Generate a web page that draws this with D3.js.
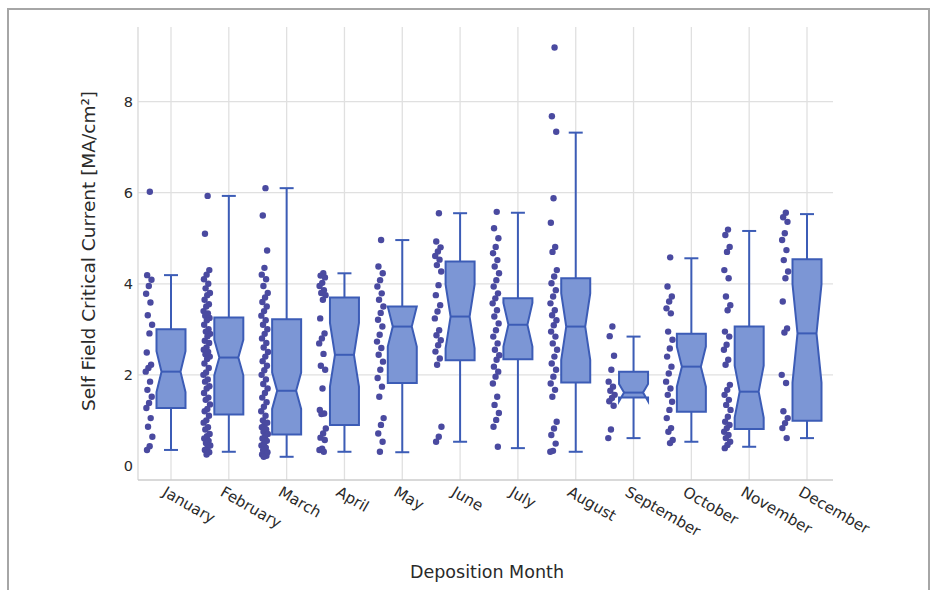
<!DOCTYPE html>
<html>
<head>
<meta charset="utf-8">
<script src="https://cdn.jsdelivr.net/npm/d3@7"></script>
<style>
  body { margin: 0; background: #fff; }
  text { font-family: "DejaVu Sans", Verdana, sans-serif; }
</style>
</head>
<body>
<svg id="chart" width="936" height="590"></svg>
<script>
// Monthly distribution of self-field critical current (MA/cm²)
const months = ["January", "February", "March", "April", "May", "June",
                "July", "August", "September", "October", "November", "December"];

// Box statistics per month
const upperFence = [4.19, 5.93, 6.10, 4.23, 4.96, 5.55, 5.56, 7.32, 2.84, 4.56, 5.16, 5.53];
const q3         = [3.00, 3.26, 3.22, 3.70, 3.50, 4.49, 3.68, 4.12, 2.07, 2.90, 3.06, 4.54];
const medians    = [2.07, 2.38, 1.65, 2.44, 3.06, 3.28, 3.10, 3.06, 1.61, 2.18, 1.63, 2.91];
const q1         = [1.27, 1.13, 0.69, 0.90, 1.82, 2.32, 2.34, 1.83, 1.50, 1.19, 0.81, 0.99];
const lowerFence = [0.35, 0.31, 0.20, 0.31, 0.30, 0.53, 0.39, 0.31, 0.61, 0.53, 0.42, 0.61];
const notchHalf  = [0.45, 0.39, 0.40, 0.70, 0.44, 0.70, 0.48, 0.73, 0.19, 0.44, 0.57, 1.08];

// Individual samples per month
const janPoints = [6.02, 4.19, 4.09, 3.95, 3.78, 3.59, 3.31, 3.10, 2.91, 2.49, 2.22, 2.15, 2.07,
  1.85, 1.67, 1.52, 1.38, 1.27, 1.05, 0.86, 0.64, 0.43, 0.35];
const febPoints = [5.93, 5.10, 4.30, 4.20, 4.10, 4.00, 3.90, 3.80, 3.75, 3.65, 3.55, 3.50, 3.40,
  3.35, 3.30, 3.25, 3.20, 3.10, 3.00, 2.95, 2.90, 2.85, 2.75, 2.70, 2.60, 2.55, 2.50, 2.45, 2.40,
  2.35, 2.25, 2.15, 2.05, 2.00, 1.90, 1.85, 1.75, 1.70, 1.60, 1.50, 1.45, 1.35, 1.25, 1.20, 1.10,
  1.00, 0.95, 0.85, 0.80, 0.70, 0.65, 0.60, 0.55, 0.50, 0.45, 0.40, 0.35, 0.30, 0.25];
const marPoints = [6.10, 5.50, 4.73, 4.35, 4.20, 4.10, 3.95, 3.80, 3.70, 3.60, 3.50, 3.40, 3.30,
  3.20, 3.10, 3.00, 2.90, 2.80, 2.70, 2.60, 2.50, 2.40, 2.30, 2.20, 2.10, 2.00, 1.90, 1.80, 1.70,
  1.60, 1.50, 1.40, 1.30, 1.20, 1.10, 1.00, 0.95, 0.90, 0.85, 0.80, 0.75, 0.70, 0.65, 0.60, 0.55,
  0.50, 0.45, 0.40, 0.35, 0.30, 0.28, 0.25, 0.22, 0.20];
const aprPoints = [4.23, 4.18, 4.14, 4.02, 3.95, 3.86, 3.80, 3.75, 3.65, 3.24, 2.91, 2.80, 2.69,
  2.46, 2.20, 2.11, 1.70, 1.23, 1.15, 1.14, 0.82, 0.71, 0.62, 0.57, 0.38, 0.35, 0.31];
const mayPoints = [4.96, 4.38, 4.23, 4.08, 3.94, 3.79, 3.65, 3.50, 3.36, 3.21, 3.06, 2.88, 2.73,
  2.59, 2.44, 2.29, 2.11, 1.93, 1.74, 1.52, 1.05, 0.90, 0.71, 0.53, 0.31];
const junPoints = [5.55, 4.93, 4.80, 4.71, 4.61, 4.53, 4.41, 4.27, 3.97, 3.75, 3.53, 3.39, 3.24,
  2.98, 2.87, 2.76, 2.65, 2.51, 2.36, 2.22, 0.86, 0.64, 0.53];
const julPoints = [5.58, 5.22, 5.00, 4.81, 4.67, 4.52, 4.38, 4.23, 4.08, 3.94, 3.79, 3.68, 3.57,
  3.42, 3.28, 3.13, 2.98, 2.84, 2.69, 2.55, 2.43, 2.33, 2.18, 2.07, 1.96, 1.81, 1.52, 1.34, 1.16,
  1.01, 0.86, 0.42];
const augPoints = [9.19, 7.68, 7.34, 5.88, 5.34, 4.81, 4.70, 4.30, 4.16, 4.01, 3.86, 3.72, 3.57,
  3.42, 3.31, 3.20, 3.09, 2.95, 2.84, 2.69, 2.55, 2.40, 2.25, 2.11, 1.96, 1.81, 1.67, 1.52, 0.97,
  0.82, 0.68, 0.49, 0.33, 0.31];
const sepPoints = [3.06, 2.85, 2.42, 2.11, 1.85, 1.74, 1.65, 1.56, 1.49, 1.42, 1.32, 0.80, 0.61];
const octPoints = [4.58, 3.94, 3.72, 3.61, 3.46, 3.35, 2.95, 2.77, 2.58, 2.40, 2.18, 2.03, 1.85,
  1.70, 1.56, 1.41, 1.23, 1.05, 0.83, 0.75, 0.57, 0.50];
const novPoints = [5.19, 5.07, 4.81, 4.70, 4.30, 4.12, 3.72, 3.53, 3.42, 2.95, 2.84, 2.66, 2.55,
  2.33, 2.22, 1.78, 1.67, 1.56, 1.45, 1.34, 1.23, 1.08, 0.97, 0.90, 0.83, 0.75, 0.68, 0.61, 0.53,
  0.46, 0.39];
const decPoints = [5.56, 5.46, 5.36, 5.11, 4.96, 4.74, 4.52, 4.27, 4.12, 3.61, 3.02, 2.93, 2.00,
  1.82, 1.20, 1.05, 0.94, 0.83, 0.61];

const monthPoints = [janPoints, febPoints, marPoints, aprPoints, mayPoints, junPoints,
  julPoints, augPoints, sepPoints, octPoints, novPoints, decPoints];

const yTicks = [0, 2, 4, 6, 8];

const svg = d3.select("#chart");
const plot = { left: 138, right: 833, top: 27, bottom: 480 };

const x = d3.scalePoint().domain(months).range([171, 807]);
const y = d3.scaleLinear().domain([-0.31, 9.64]).range([plot.bottom, plot.top]);

const boxStroke = "#3c5cb6";
const boxFill = "#7c96d5";
const pointFill = "#4a4aa0";
const gridColor = "#e0e0e0";
const textColor = "#2a2a2a";
const fontStack = '"DejaVu Sans", Verdana, sans-serif';

// outer frame
svg.append("rect")
  .attr("x", 8).attr("y", 9).attr("width", 921).attr("height", 590)
  .attr("fill", "none").attr("stroke", "#a6a6a6").attr("stroke-width", 2);

// horizontal grid
svg.append("g").selectAll("line").data(yTicks.filter(d => d > 0)).join("line")
  .attr("x1", plot.left).attr("x2", plot.right)
  .attr("y1", d => y(d)).attr("y2", d => y(d))
  .attr("stroke", gridColor).attr("stroke-width", 1.3);

// vertical grid at each month
svg.append("g").selectAll("line").data(months).join("line")
  .attr("x1", d => x(d)).attr("x2", d => x(d))
  .attr("y1", plot.top).attr("y2", plot.bottom)
  .attr("stroke", gridColor).attr("stroke-width", 1.3);

// axis lines
svg.append("line").attr("x1", plot.left).attr("x2", plot.left)
  .attr("y1", plot.top).attr("y2", plot.bottom)
  .attr("stroke", "#d8d8d8").attr("stroke-width", 1.3);
svg.append("line").attr("x1", plot.left).attr("x2", plot.right)
  .attr("y1", plot.bottom).attr("y2", plot.bottom)
  .attr("stroke", "#cdcdcd").attr("stroke-width", 1.6);

// y axis labels
const yAxis = d3.axisLeft(y).tickValues(yTicks).tickSize(0).tickPadding(0);
const yg = svg.append("g").attr("transform", `translate(${plot.left - 5},0)`).call(yAxis);
yg.select(".domain").remove();
yg.selectAll("text").attr("font-size", 14.5).attr("fill", textColor)
  .style("font-family", fontStack);

// x axis labels, rotated
const xAxis = d3.axisBottom(x).tickSize(0).tickPadding(0);
const xg = svg.append("g").attr("transform", `translate(0,${plot.bottom})`).call(xAxis);
xg.select(".domain").remove();
xg.selectAll("text")
  .attr("font-size", 15.2).attr("fill", textColor)
  .style("font-family", fontStack)
  .attr("text-anchor", "start")
  .attr("dy", null)
  .attr("y", 0)
  .attr("transform", "translate(-10,15) rotate(30)");

// axis titles
svg.append("text")
  .attr("transform", "translate(95,251) rotate(-90)")
  .attr("text-anchor", "middle").attr("font-size", 18.5).attr("fill", textColor)
  .text("Self Field Critical Current [MA/cm²]");
svg.append("text")
  .attr("x", 487).attr("y", 578)
  .attr("text-anchor", "middle").attr("font-size", 17.5).attr("fill", textColor)
  .text("Deposition Month");

// boxes
const halfW = 14.5;
const notchInset = 5;
const capHalf = 7;

const boxes = svg.append("g").selectAll("g").data(months).join("g");

boxes.each(function(m, i) {
  const g = d3.select(this);
  const cx = x(m);
  const x0 = cx - halfW, x1 = cx + halfW;
  const nLo = y(medians[i] - notchHalf[i]);
  const nHi = y(medians[i] + notchHalf[i]);
  const path = d3.path();
  path.moveTo(x0, y(q1[i]));
  path.lineTo(x0, nLo);
  path.lineTo(x0 + notchInset, y(medians[i]));
  path.lineTo(x0, nHi);
  path.lineTo(x0, y(q3[i]));
  path.lineTo(x1, y(q3[i]));
  path.lineTo(x1, nHi);
  path.lineTo(x1 - notchInset, y(medians[i]));
  path.lineTo(x1, nLo);
  path.lineTo(x1, y(q1[i]));
  path.closePath();

  // whiskers
  g.append("line").attr("x1", cx).attr("x2", cx)
    .attr("y1", y(q3[i])).attr("y2", y(upperFence[i]))
    .attr("stroke", boxStroke).attr("stroke-width", 2);
  g.append("line").attr("x1", cx).attr("x2", cx)
    .attr("y1", y(q1[i])).attr("y2", y(lowerFence[i]))
    .attr("stroke", boxStroke).attr("stroke-width", 2);
  g.append("line").attr("x1", cx - capHalf).attr("x2", cx + capHalf)
    .attr("y1", y(upperFence[i])).attr("y2", y(upperFence[i]))
    .attr("stroke", boxStroke).attr("stroke-width", 2);
  g.append("line").attr("x1", cx - capHalf).attr("x2", cx + capHalf)
    .attr("y1", y(lowerFence[i])).attr("y2", y(lowerFence[i]))
    .attr("stroke", boxStroke).attr("stroke-width", 2);

  g.append("path").attr("d", path.toString())
    .attr("fill", boxFill).attr("stroke", boxStroke).attr("stroke-width", 2)
    .attr("stroke-linejoin", "miter");
  g.append("line")
    .attr("x1", x0 + notchInset).attr("x2", x1 - notchInset)
    .attr("y1", y(medians[i])).attr("y2", y(medians[i]))
    .attr("stroke", boxStroke).attr("stroke-width", 2);

  // sample points, spread beside the box
  const pts = monthPoints[i];
  g.append("g").selectAll("circle").data(pts).join("circle")
    .attr("cx", (d, k) => cx - 22 + ((((k + 1) * 0.6180339887) % 1) - 0.5) * 7)
    .attr("cy", d => y(d))
    .attr("r", 3.2)
    .attr("fill", pointFill);
});
</script>
</body>
</html>
